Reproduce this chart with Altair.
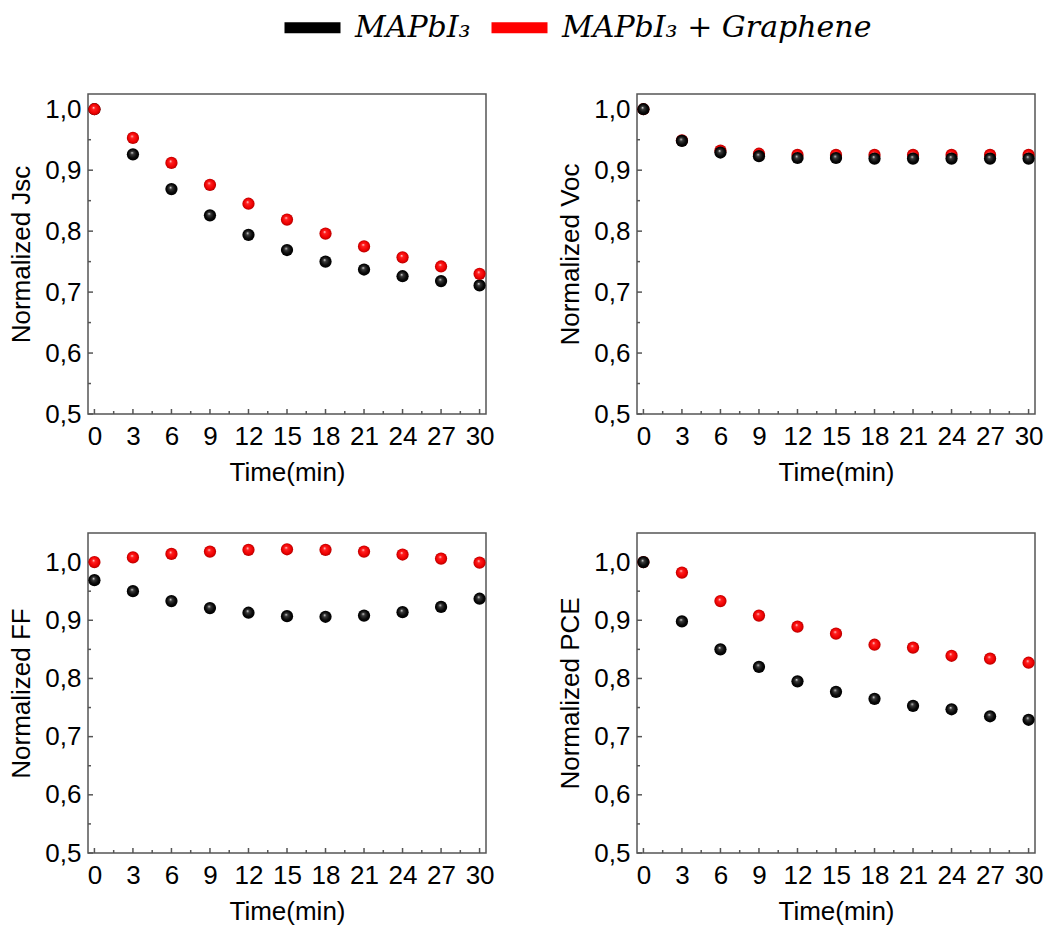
import altair as alt
import pandas as pd

# ---------------- data ----------------
time = [0, 3, 6, 9, 12, 15, 18, 21, 24, 27, 30]

jsc_ref = [1.000, 0.926, 0.869, 0.826, 0.794, 0.769, 0.750, 0.737, 0.726, 0.718, 0.711]
jsc_gr  = [1.000, 0.953, 0.912, 0.876, 0.845, 0.819, 0.796, 0.775, 0.757, 0.742, 0.730]

voc_ref = [1.000, 0.948, 0.929, 0.923, 0.920, 0.920, 0.919, 0.919, 0.919, 0.919, 0.919]
voc_gr  = [1.000, 0.949, 0.932, 0.927, 0.925, 0.925, 0.925, 0.925, 0.925, 0.925, 0.925]

ff_ref = [0.969, 0.950, 0.933, 0.921, 0.913, 0.907, 0.906, 0.908, 0.914, 0.923, 0.937]
ff_gr  = [1.000, 1.008, 1.014, 1.018, 1.021, 1.022, 1.021, 1.018, 1.013, 1.006, 0.999]

pce_ref = [1.000, 0.898, 0.850, 0.820, 0.795, 0.777, 0.765, 0.753, 0.747, 0.735, 0.729]
pce_gr  = [1.000, 0.982, 0.933, 0.908, 0.889, 0.877, 0.858, 0.853, 0.839, 0.834, 0.827]

series_labels = ["MAPbI\u2083", "MAPbI\u2083 + Graphene"]

x_major = [0, 3, 6, 9, 12, 15, 18, 21, 24, 27, 30]
x_minor = [1.5, 4.5, 7.5, 10.5, 13.5, 16.5, 19.5, 22.5, 25.5, 28.5]
y_major = [0.5, 0.6, 0.7, 0.8, 0.9, 1.0]
y_minor = [0.55, 0.65, 0.75, 0.85, 0.95]

# ---------------- style ----------------
W, H = 398, 320
FRAME = "#555555"
FONT = "Liberation Sans"

grad_red = alt.RadialGradient(
    gradient="radial",
    stops=[
        alt.GradientStop(offset=0, color="#ffe6e6"),
        alt.GradientStop(offset=0.25, color="#ff2020"),
        alt.GradientStop(offset=0.75, color="#ee0000"),
        alt.GradientStop(offset=1, color="#b00000"),
    ],
    x1=0.42, y1=0.36, r1=0, x2=0.5, y2=0.5, r2=0.5,
)
grad_black = alt.RadialGradient(
    gradient="radial",
    stops=[
        alt.GradientStop(offset=0, color="#e8e8e8"),
        alt.GradientStop(offset=0.25, color="#3a3a3a"),
        alt.GradientStop(offset=0.7, color="#080808"),
        alt.GradientStop(offset=1, color="#000000"),
    ],
    x1=0.42, y1=0.36, r1=0, x2=0.5, y2=0.5, r2=0.5,
)

label_expr = "replace(format(datum.value, '.1f'), '.', ',')"


def make_panel(ytitle, ref, gr, ymax, black_on_top, with_legend=False):
    xs = alt.Scale(domain=[-0.5, 30.5], nice=False, zero=False)
    ys = alt.Scale(domain=[0.5, ymax], nice=False, zero=False)
    xax = alt.Axis(values=x_major, title="Time(min)", ticks=False, domain=False,
                   grid=False, labelPadding=9, titlePadding=10, labelFlush=False,
                   labelFont=FONT, labelFontSize=26, titleFont=FONT,
                   titleFontSize=26, titleFontWeight="normal",
                   labelColor="#000", titleColor="#000")
    yax = alt.Axis(values=y_major, labelExpr=label_expr, title=ytitle, ticks=False,
                   domain=False, grid=False, labelPadding=7, titlePadding=10,
                   labelFlush=False, labelFont=FONT, labelFontSize=26,
                   titleFont=FONT, titleFontSize=26, titleFontWeight="normal",
                   labelColor="#000", titleColor="#000")

    X = lambda: alt.X("t:Q", scale=xs, axis=xax)
    Y = lambda: alt.Y("v:Q", scale=ys, axis=yax)

    df_ref = pd.DataFrame({"t": time, "v": ref, "series": series_labels[0]})
    df_gr = pd.DataFrame({"t": time, "v": gr, "series": series_labels[1]})

    def balls(df, grad):
        return alt.Chart(df).mark_point(
            filled=True, fill=grad, size=150, opacity=1, strokeWidth=0, shape="circle"
        ).encode(x=X(), y=Y())

    b_ref = balls(df_ref, grad_black)
    b_gr = balls(df_gr, grad_red)
    layers_pts = [b_gr, b_ref] if black_on_top else [b_ref, b_gr]

    # inward ticks
    ymaj = alt.Chart(pd.DataFrame({"v": y_major})).mark_rule(color=FRAME, strokeWidth=1.5).encode(
        y=Y(), x=alt.value(0), x2=alt.value(5))
    ymin = alt.Chart(pd.DataFrame({"v": y_minor})).mark_rule(color=FRAME, strokeWidth=1.5).encode(
        y=Y(), x=alt.value(0), x2=alt.value(3))
    xmaj = alt.Chart(pd.DataFrame({"t": x_major})).mark_rule(color=FRAME, strokeWidth=1.5).encode(
        x=X(), y=alt.value(H), y2=alt.value(H - 5))
    xmin = alt.Chart(pd.DataFrame({"t": x_minor})).mark_rule(color=FRAME, strokeWidth=1.5).encode(
        x=X(), y=alt.value(H), y2=alt.value(H - 3))

    layers = [ymaj, ymin, xmaj, xmin] + layers_pts

    if with_legend:
        df_all = pd.concat([df_ref, df_gr])
        leg = alt.Chart(df_all).mark_point(opacity=0, filled=False).encode(
            x=X(), y=Y(),
            color=alt.Color(
                "series:N",
                scale=alt.Scale(domain=series_labels, range=["#000000", "#ff0000"]),
                legend=alt.Legend(
                    title=None, orient="none", direction="horizontal",
                    legendX=191, legendY=-100,
                    symbolType="stroke", symbolSize=3136, symbolStrokeWidth=11,
                    symbolOpacity=1, labelFont="DejaVu Serif",
                    labelFontStyle="italic", labelFontSize=30, labelColor="#000",
                    labelOffset=9, columnPadding=-2, labelLimit=500,
                ),
            ),
        )
        layers = [leg] + layers

    return alt.layer(*layers).properties(width=W, height=H)


p1 = make_panel("Normalized Jsc", jsc_ref, jsc_gr, 1.025, black_on_top=False, with_legend=True)
p2 = make_panel("Normalized Voc", voc_ref, voc_gr, 1.025, black_on_top=True)
p3 = make_panel("Normalized FF", ff_ref, ff_gr, 1.05, black_on_top=False)
p4 = make_panel("Normalized PCE", pce_ref, pce_gr, 1.05, black_on_top=True)

row1 = alt.hconcat(p1, p2, spacing=62)
row2 = alt.hconcat(p3, p4, spacing=62)

chart = alt.vconcat(row1, row2, spacing=46).resolve_scale(color="shared").configure(
    background="white",
    padding={"left": 8, "top": -6, "right": 0, "bottom": 0},
    view=alt.ViewConfig(stroke=FRAME, strokeWidth=1.5),
)

chart.save("out.html", embed_options={"renderer": "svg", "actions": False})
